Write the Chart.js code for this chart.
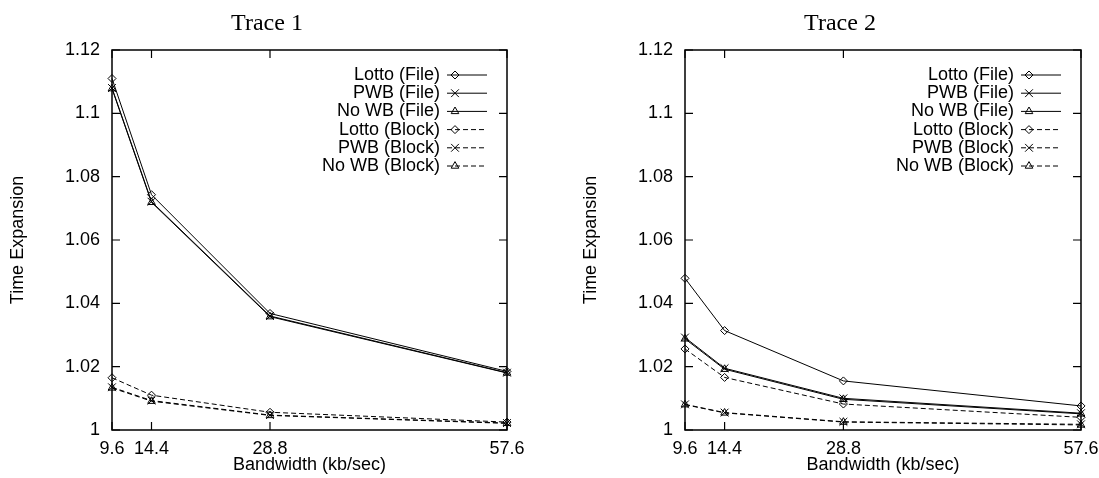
<!DOCTYPE html>
<html>
<head>
<meta charset="utf-8">
<title>Time Expansion vs Bandwidth</title>
<script src="https://cdn.jsdelivr.net/npm/chart.js@4.4.1/dist/chart.umd.min.js"></script>
<style>
  html, body { margin: 0; padding: 0; background: #fff; overflow: hidden; }
  #wrap { position: relative; width: 1099px; height: 478px; overflow: hidden; }
  .pane { position: absolute; top: 0; height: 478px; }
  #left { left: 0; width: 573px; }
  #right { left: 573px; width: 540px; }
</style>
</head>
<body>
<div id="wrap">
  <div class="pane" id="left"><canvas id="trace1" width="573" height="478"></canvas></div>
  <div class="pane" id="right"><canvas id="trace2" width="540" height="478"></canvas></div>
</div>
<script>
const bandwidth = [9.6, 14.4, 28.8, 57.6];
const xTicks = [9.6, 14.4, 28.8, 57.6];
const yTicks = [1, 1.02, 1.04, 1.06, 1.08, 1.1, 1.12];

const seriesNames = ['Lotto (File)', 'PWB (File)', 'No WB (File)', 'Lotto (Block)', 'PWB (Block)', 'No WB (Block)'];

// Trace 1
const lottoFile1  = [1.1110, 1.0743, 1.0368, 1.0185];
const pwbFile1    = [1.1080, 1.0721, 1.0360, 1.0181];
const noWbFile1   = [1.1078, 1.0719, 1.0358, 1.0180];
const lottoBlock1 = [1.0165, 1.0110, 1.0056, 1.0025];
const pwbBlock1   = [1.0135, 1.0093, 1.0047, 1.0022];
const noWbBlock1  = [1.0133, 1.0091, 1.0046, 1.0021];

// Trace 2
const lottoFile2  = [1.0479, 1.0314, 1.0155, 1.0076];
const pwbFile2    = [1.0292, 1.0195, 1.0100, 1.0053];
const noWbFile2   = [1.0288, 1.0192, 1.0097, 1.0051];
const lottoBlock2 = [1.0256, 1.0166, 1.0082, 1.0040];
const pwbBlock2   = [1.0081, 1.0055, 1.0026, 1.0018];
const noWbBlock2  = [1.0080, 1.0054, 1.0025, 1.0016];

const markers = ['rectRot', 'crossRot', 'triangle'];
const markerSize = { rectRot: 4, crossRot: 5.5, triangle: 4.4 };

Chart.defaults.color = '#000';
Chart.defaults.font.family = '"Liberation Sans", Arial, sans-serif';
Chart.defaults.font.size = 18;

function drawMarker(ctx, style, radius, x, y) {
    if (Chart.helpers && Chart.helpers.drawPoint) {
        Chart.helpers.drawPoint(ctx, { pointStyle: style, radius: radius, rotation: 0, borderWidth: 1 }, x, y);
        return;
    }
    ctx.beginPath();
    ctx.arc(x, y, radius, 0, Math.PI * 2);
    ctx.stroke();
}

// box with inward ticks on all four sides, the title and the key
const framePlugin = {
    id: 'frame',
    afterDraw(chart, args, opts) {
        const { ctx, chartArea: a } = chart;
        const xs = chart.scales.x;
        const ys = chart.scales.y;
        ctx.save();
        ctx.strokeStyle = '#000';
        ctx.lineWidth = 1.5;
        ctx.strokeRect(a.left, a.top, a.right - a.left, a.bottom - a.top);

        ctx.lineWidth = 1.2;
        ctx.beginPath();
        xs.ticks.forEach(t => {
            const px = xs.getPixelForValue(t.value);
            ctx.moveTo(px, a.bottom);
            ctx.lineTo(px, a.bottom - 8);
            ctx.moveTo(px, a.top);
            ctx.lineTo(px, a.top + 8);
        });
        ys.ticks.forEach(t => {
            const py = ys.getPixelForValue(t.value);
            ctx.moveTo(a.left, py);
            ctx.lineTo(a.left + 8, py);
            ctx.moveTo(a.right, py);
            ctx.lineTo(a.right - 8, py);
        });
        ctx.stroke();

        ctx.fillStyle = '#000';
        ctx.font = '24px "Liberation Serif", serif';
        ctx.textAlign = 'center';
        ctx.textBaseline = 'alphabetic';
        ctx.fillText(opts.text, a.left + 155, 30);

        ctx.font = '18px "Liberation Sans", Arial, sans-serif';
        ctx.textAlign = 'right';
        ctx.textBaseline = 'middle';
        chart.data.datasets.forEach((ds, i) => {
            const rowY = a.top + 25 + i * 18.2;
            const textX = a.right - 67;
            ctx.fillStyle = '#000';
            ctx.fillText(ds.label, textX, rowY);
            ctx.lineWidth = 1;
            ctx.setLineDash(ds.borderDash || []);
            ctx.beginPath();
            ctx.moveTo(textX + 7, rowY);
            ctx.lineTo(textX + 47, rowY);
            ctx.stroke();
            ctx.setLineDash([]);
            ctx.fillStyle = 'rgba(0,0,0,0)';
            drawMarker(ctx, ds.pointStyle, ds.pointRadius, textX + 15, rowY);
        });
        ctx.restore();
    }
};

function buildDatasets(series) {
    return series.map((values, i) => {
        const style = markers[i % 3];
        return {
            label: seriesNames[i],
            data: values.map((v, j) => ({ x: bandwidth[j], y: v })),
            borderColor: '#000',
            borderWidth: 1,
            borderDash: i < 3 ? [] : [5, 3],
            pointStyle: style,
            pointRadius: markerSize[style],
            pointBorderWidth: 1,
            pointBorderColor: '#000',
            pointBackgroundColor: 'rgba(0,0,0,0)',
            tension: 0,
            clip: false
        };
    });
}

function renderTrace(canvasId, titleText, series, padRight) {
    const ctx = document.getElementById(canvasId).getContext('2d');
    new Chart(ctx, {
        type: 'line',
        data: { datasets: buildDatasets(series) },
        options: {
            responsive: false,
            animation: false,
            layout: { padding: { top: 50, right: padRight, left: 0, bottom: 0 } },
            plugins: {
                legend: { display: false },
                tooltip: { enabled: false },
                frame: { text: titleText }
            },
            scales: {
                x: {
                    type: 'linear',
                    min: 9.6,
                    max: 57.6,
                    afterBuildTicks: s => { s.ticks = xTicks.map(v => ({ value: v })); },
                    afterFit: s => { s.height = 48; },
                    grid: { display: false, drawTicks: false },
                    border: { display: false },
                    ticks: {
                        autoSkip: false,
                        maxRotation: 0,
                        padding: 8,
                        callback: v => v.toFixed(1)
                    },
                    title: {
                        display: true,
                        text: 'Bandwidth (kb/sec)',
                        padding: { top: 0, bottom: 2 }
                    }
                },
                y: {
                    min: 1,
                    max: 1.12,
                    afterBuildTicks: s => { s.ticks = yTicks.map(v => ({ value: v })); },
                    afterFit: s => { s.width = 112; },
                    grid: { display: false, drawTicks: false },
                    border: { display: false },
                    ticks: {
                        padding: 12,
                        callback: v => String(+v.toFixed(2))
                    },
                    title: {
                        display: true,
                        text: 'Time Expansion',
                        padding: { top: 7, bottom: 0 }
                    }
                }
            }
        },
        plugins: [framePlugin]
    });
}

renderTrace('trace1', 'Trace 1',
    [lottoFile1, pwbFile1, noWbFile1, lottoBlock1, pwbBlock1, noWbBlock1], 66);
renderTrace('trace2', 'Trace 2',
    [lottoFile2, pwbFile2, noWbFile2, lottoBlock2, pwbBlock2, noWbBlock2], 32);
</script>
</body>
</html>
